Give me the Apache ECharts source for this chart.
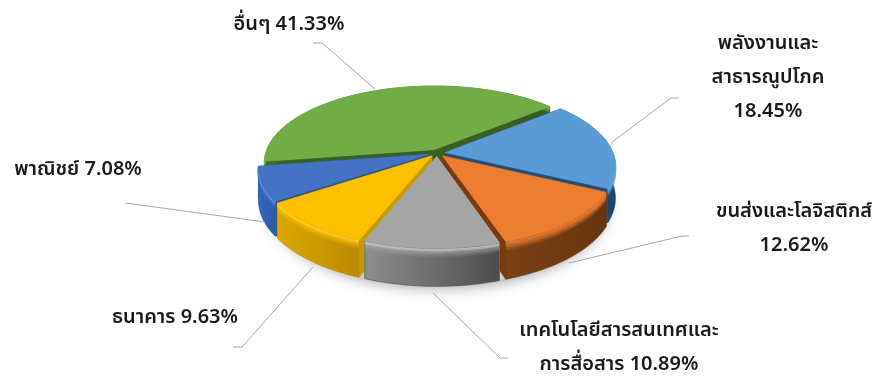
<!DOCTYPE html>
<html><head><meta charset="utf-8">
<style>html,body{margin:0;padding:0;background:#fff}#c{width:878px;height:379px}</style>
<script src="https://cdn.jsdelivr.net/npm/echarts@6/dist/echarts.min.js"></script>
</head><body><div id="c"></div>
<script>
// Data
const categories = ['พลังงานและ\nสาธารณูปโภค','ขนส่งและโลจิสติกส์','เทคโนโลยีสารสนเทศและ\nการสื่อสาร','ธนาคาร','พาณิชย์','อื่นๆ'];
const shares = [18.45,12.62,10.89,9.63,7.08,41.33];
const valueSeparators = ['\n','\n',' ',' ',' ',' '];
// Styling
const topColors  = ['#5B9BD5','#ED7D31','#A5A5A5','#FFC000','#4472C4','#70AD47'];
const bevelColors= ['#6FA9DC','#ED7D31','#C4C4C4','#FFD21F','#5B8AE0','#7FBD55'];
const wallStart  = ['#2A6196','#7C4014','#8E8E8E','#DDA800','#3466BC','#3F6A28'];
const wallEnd    = ['#1C4468','#65350F','#4C4C4C','#B98A00','#2C5AAA','#375623'];
const cutColors  = ['#1F4E79','#7A3A0D','#B9B9B9','#C79A00','#2B4F8C','#3A5F22'];
// Layout
const CX=437, CY=153, RX=168, RY=75.2, K=0.165, DEPTH=31.5, EXPLODE=0.048, START_DEG=50;
const labelAnchors = [[768,79],[794,230],[619,349],[175,319],[78,171],[289,26]];
const leaderPaths = [
  [[679,98],[671,98],[611,143]],
  [[689,236],[682,236],[569,263]],
  [[508,358],[500,358],[433,293]],
  [[233,347],[242,347],[313,267]],
  [[125,203],[133,204],[265,222]],
  [[313,43],[322,43],[375,89]]
];
const total = shares.reduce((a,b)=>a+b,0);
const spans = [];
{ let a=START_DEG; shares.forEach(v=>{const s=v/total*360; spans.push([a,a+s]); a+=s;}); }
function project(x,y,d){ const w=1/(1-K*y); return [CX+RX*x*w, CY+RY*y*w+(d||0)*w]; }
function unit(deg){ const t=deg*Math.PI/180; return [Math.sin(t),-Math.cos(t)]; }
function sliceGeom(i){
  const [a0,a1]=spans[i], m=unit((a0+a1)/2), ox=m[0]*EXPLODE, oy=m[1]*EXPLODE, arc=[];
  const n=Math.max(8,Math.ceil((a1-a0)/2));
  for(let k=0;k<=n;k++){ const u=unit(a0+(a1-a0)*k/n); arc.push([u[0]+ox,u[1]+oy]); }
  return {apex:[ox,oy],arc,midY:m[1]};
}
const rank = shares.map((_,i)=>i).sort((a,b)=>sliceGeom(a).midY-sliceGeom(b).midY);
const P=(pts,d)=>pts.map(p=>project(p[0],p[1],d));
function renderSlice(params,api){
  const i=params.dataIndex, g=sliceGeom(i), z=rank.indexOf(i)+1, kids=[];
  const poly=(points,fill,stroke)=>kids.push({type:'polygon',z2:z,shape:{points},style:{fill,stroke:stroke||(typeof fill==='string'?fill:wallEnd[i]),lineWidth:0.6}});
  const top=[g.apex,...g.arc];
  [g.arc[0],g.arc[g.arc.length-1]].forEach(e=>{
    poly([...P([g.apex,e],0),...P([e,g.apex],DEPTH)],cutColors[i]);
  });
  poly([...P(g.arc,0),...P(g.arc.slice().reverse(),DEPTH)],
    new echarts.graphic.LinearGradient(0,0,1,0,[{offset:0,color:wallStart[i]},{offset:1,color:wallEnd[i]}]));
  for(let b=7;b>=1;b--){
    kids.push({type:'polyline',z2:z,shape:{points:P(g.arc,b)},style:{stroke:b<3?bevelColors[i]:topColors[i],fill:null,lineWidth:1.6,opacity:(8-b)/8}});
  }
  poly(P(top,0),topColors[i]);
  return {type:'group',children:kids};
}
function renderShadow(){
  const pts=[]; for(let a=0;a<360;a+=3){const u=unit(a); pts.push([u[0]*0.99,u[1]*0.99+0.03]);}
  return {type:'polygon',z2:0,shape:{points:P(pts,DEPTH+2)},style:{fill:'#ccc',shadowBlur:14,shadowColor:'rgba(0,0,0,0.35)',shadowOffsetX:2,shadowOffsetY:3}};
}
function renderLabel(params){
  const i=params.dataIndex,[x,y]=labelAnchors[i];
  return {type:'group',children:[
    {type:'polyline',shape:{points:leaderPaths[i]},style:{stroke:'#A6A6A6',fill:null,lineWidth:1}},
    {type:'text',x,y,style:{text:categories[i]+valueSeparators[i]+shares[i].toFixed(2)+'%',x:0,y:0,align:'center',verticalAlign:'middle',
      font:'600 20px Tahoma,"Noto Sans Thai","Noto Sans",sans-serif',lineHeight:34,fill:'#1a1a1a'}}
  ]};
}
const chart=echarts.init(document.getElementById('c'),null,{renderer:'canvas'});
chart.setOption({
  animation:false,
  series:[
    {type:'custom',coordinateSystem:'none',silent:true,z:1,data:[0],renderItem:renderShadow},
    {type:'custom',coordinateSystem:'none',silent:true,z:2,data:shares.map((v,i)=>({name:categories[i],value:v})),renderItem:renderSlice},
    {type:'custom',coordinateSystem:'none',silent:true,z:3,data:shares.map((v,i)=>({name:categories[i],value:v})),renderItem:renderLabel}
  ]
});
</script></body></html>
